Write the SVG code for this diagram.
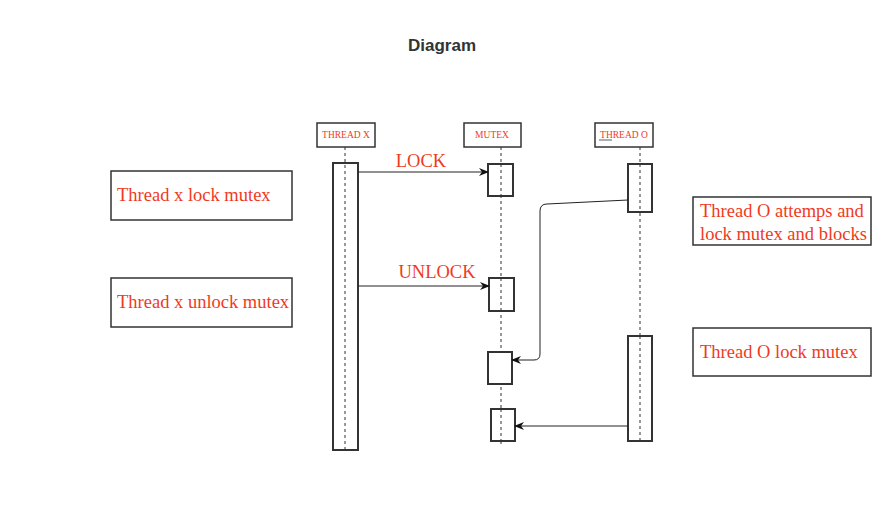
<svg xmlns="http://www.w3.org/2000/svg" width="892" height="530" viewBox="0 0 892 530">
<style>
.b{fill:#fff;stroke:#333;stroke-width:2}
.h{fill:#fff;stroke:#333;stroke-width:1.5}
.life{stroke:#333;stroke-width:1;stroke-dasharray:3,3}
.t{font-family:"Liberation Serif",serif;fill:#f03a1e}
.c{fill:none;stroke:#222;stroke-width:1}
</style>
<defs><marker id="a" markerWidth="10" markerHeight="8" refX="9" refY="4" orient="auto" markerUnits="userSpaceOnUse"><path d="M0,0 L10,4 L0,8 L3,4 z" fill="#111"/></marker></defs>
<rect width="892" height="530" fill="#fff"/>
<text x="442" y="51" text-anchor="middle" font-family="Liberation Sans,sans-serif" font-weight="bold" font-size="17" fill="#333">Diagram</text>
<g id="threadX">
<rect class="h" x="317" y="123" width="58" height="24"/>
<text class="t" x="346" y="138" text-anchor="middle" font-size="9.5">THREAD X</text>
<rect class="b" x="333" y="163" width="25" height="287"/>
<line class="life" x1="345" y1="147" x2="345" y2="450"/>
</g>
<g id="mutex">
<rect class="h" x="464" y="123" width="57" height="24"/>
<text class="t" x="492" y="138" text-anchor="middle" font-size="9.5">MUTEX</text>
<line class="life" x1="501" y1="147" x2="501" y2="445"/>
<rect class="b" x="488" y="164" width="25" height="32"/>
<rect class="b" x="489" y="278" width="25" height="33"/>
<rect class="b" x="488" y="352" width="24" height="32"/>
<rect class="b" x="491" y="409" width="24" height="32"/>
<line class="life" x1="501" y1="164" x2="501" y2="196"/>
<line class="life" x1="501" y1="278" x2="501" y2="311"/>
<line class="life" x1="501" y1="409" x2="501" y2="441"/>
</g>
<g id="threadO">
<rect class="h" x="595" y="123" width="58" height="24"/>
<text class="t" x="624" y="138" text-anchor="middle" font-size="9.5">THREAD O</text>
<line x1="599" y1="140" x2="612" y2="140" stroke="#334" stroke-width="0.8"/>
<line class="life" x1="640" y1="147" x2="640" y2="441"/>
<rect class="b" x="628" y="164" width="24" height="48"/>
<rect class="b" x="628" y="336" width="24" height="105"/>
<line class="life" x1="640" y1="164" x2="640" y2="212"/>
<line class="life" x1="640" y1="336" x2="640" y2="441"/>
</g>
<g id="connectors">
<line class="c" x1="358" y1="172" x2="488" y2="172" marker-end="url(#a)"/>
<line class="c" x1="358" y1="286" x2="489" y2="286" marker-end="url(#a)"/>
<path class="c" d="M628,200 L547,204 Q540,204 540,211 L540,354 Q540,360 534,360 L512,360" marker-end="url(#a)"/>
<line class="c" x1="628" y1="426" x2="515" y2="426" marker-end="url(#a)"/>
<text class="t" x="421" y="167" text-anchor="middle" font-size="18.5">LOCK</text>
<text class="t" x="437" y="278" text-anchor="middle" font-size="18.5">UNLOCK</text>
</g>
<g id="note1"><rect class="h" x="111" y="171" width="181" height="49"/><text class="t" x="117" y="201" font-size="18.5">Thread x lock mutex</text></g>
<g id="note2"><rect class="h" x="111" y="278" width="181" height="49"/><text class="t" x="117" y="308" font-size="18.5">Thread x unlock mutex</text></g>
<g id="note3"><rect class="h" x="693" y="197" width="178" height="48"/><text class="t" x="700" y="217" font-size="18.5">Thread O attemps and</text><text class="t" x="700" y="240" font-size="18.5">lock mutex and blocks</text></g>
<g id="note4"><rect class="h" x="693" y="328" width="178" height="48"/><text class="t" x="700" y="358" font-size="18.5">Thread O lock mutex</text></g>
</svg>
